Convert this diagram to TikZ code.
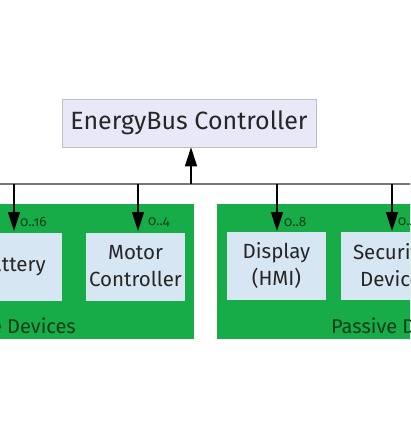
\documentclass[tikz,border=0pt]{standalone}
\usepackage{fontspec}
\setmainfont{Fira Sans}
\newfontfamily\oldnum[Numbers=OldStyle]{Fira Sans}
\usetikzlibrary{arrows.meta}
\definecolor{busgreen}{RGB}{24,172,72}
\definecolor{darkgreen}{RGB}{10,60,25}
\definecolor{innerblue}{RGB}{214,230,242}
\definecolor{ctrlfill}{RGB}{232,232,248}
\definecolor{busgray}{RGB}{120,120,120}
\begin{document}
\begin{tikzpicture}[x=1pt,y=-1pt,
  groupbox/.style={fill=busgreen,draw=none},
  devbox/.style={fill=innerblue,draw=none,minimum width=99pt,minimum height=68pt,align=center,font=\fontsize{20.5}{27}\selectfont,text=black!85,inner sep=0pt},
  ctrlbox/.style={fill=ctrlfill,draw=black!25,line width=0.6pt,minimum width=254pt,minimum height=48pt,font=\fontsize{25}{30}\selectfont,text=black!85,inner sep=0pt},
  mult/.style={font=\oldnum\fontsize{13.5}{16}\selectfont,text=darkgreen,anchor=west,inner sep=0pt},
  grouplabel/.style={font=\fontsize{20}{24}\selectfont,text=darkgreen,inner sep=0pt},
  droparrow/.style={draw=black,line width=1.5pt,-{Triangle[width=12pt,length=19pt]}},
  busline/.style={draw=busgray,line width=1.4pt}]
\useasboundingbox (0,0) rectangle (410,441);
\clip (0,0) rectangle (410,441);
\fill[white] (0,0) rectangle (410,441);
% group boxes
\path[groupbox] (-60,204) rectangle (194,339);
\path[groupbox] (217,204) rectangle (470,339);
% controller
\node[ctrlbox] (ctrl) at (189,123) {EnergyBus Controller};
% bus
\coordinate (busL) at (-10,184);
\coordinate (busR) at (420,184);
\draw[busline] (busL) -- (busR);
% devices
\node[devbox] (bat) at (12,266.5) {Battery};
\node[devbox] (mot) at (135.5,266.5) {Motor\\Controller};
\node[devbox] (dis) at (276.5,265.5) {Display\\(HMI)};
\node[devbox] (sec) at (390.5,265.5) {Security\\Device};
% drops
\foreach \n/\x in {bat/14,mot/138,dis/277,sec/392}{
  \coordinate (top\n) at (\x,184);
  \draw[droparrow] (top\n) -- (\x,231);
}
\coordinate (ctrlup) at (191,184);
\draw[droparrow] (ctrlup) -- (ctrl.south -| ctrlup);
% multiplicities
\node[mult] (m1) at (20,222) {0..16};
\node[mult] (m2) at (148,222) {0..4};
\node[mult] (m3) at (284,222) {0..8};
\node[mult] (m4) at (398,222) {0..2};
% group labels
\node[grouplabel,anchor=east] (al) at (76,326) {Active Devices};
\node[grouplabel,anchor=west] (pl) at (331,326) {Passive Devices};
\end{tikzpicture}
\end{document}
